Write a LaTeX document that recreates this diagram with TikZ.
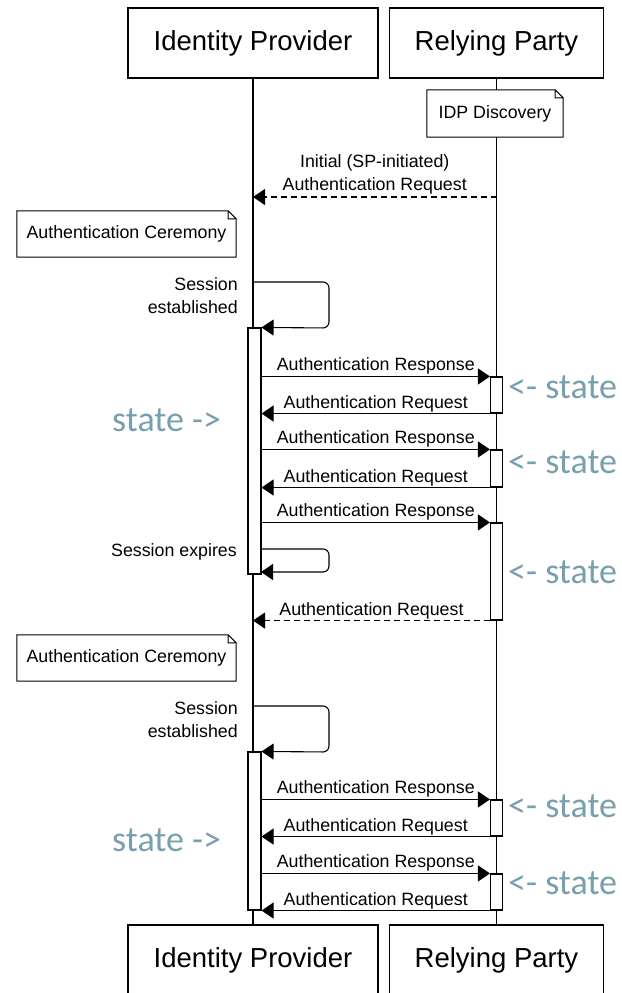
\documentclass[tikz,border=0pt]{standalone}
\usepackage{fontspec}
\setmainfont{Liberation Sans}
\newfontfamily\statefont{Carlito}
\usetikzlibrary{arrows.meta}
\definecolor{statecol}{RGB}{120,159,174}

% folded-corner outline drawn over a note node
\newcommand\foldnote[1]{%
  \draw[line width=1pt]
    (#1.north west) -- ([xshift=-8pt]#1.north east) -- ([yshift=-8pt]#1.north east)
    -- (#1.south east) -- (#1.south west) -- cycle
    ([xshift=-8pt]#1.north east) -- ([xshift=-8pt,yshift=-8pt]#1.north east)
    -- ([yshift=-8pt]#1.north east);}

\begin{document}
\begin{tikzpicture}[x=1pt,y=-1pt,
  actor/.style={draw, line width=1.1pt, fill=white, minimum width=#1,
    minimum height=70pt, inner sep=0, font=\fontsize{27.5}{33}\selectfont},
  notebox/.style={fill=white, inner sep=0, font=\fontsize{17.8}{23}\selectfont},
  bar/.style={draw, fill=white, line width=1.1pt, inner sep=0, minimum width=#1},
  lifeline/.style={line width=1.1pt},
  msg/.style={line width=1.1pt, -{Triangle[length=12pt,width=16pt]}},
  reply/.style={msg, dash pattern=on 6pt off 4pt},
  selfmsg/.style={msg, rounded corners=6pt},
  lbl/.style={inner sep=0, font=\fontsize{17.8}{23}\selectfont},
  statelbl/.style={inner sep=0, text=statecol, font=\statefont\fontsize{36}{40}\selectfont}
]
\useasboundingbox (0,0) rectangle (621,993);
\clip (0,0) rectangle (621,993);

% participants
\node[actor=250pt] (idpT) at (253,43) {Identity Provider};
\node[actor=214pt] (rpT)  at (496.5,43) {Relying Party};
\node[actor=250pt] (idpB) at (253,960) {Identity Provider};
\node[actor=214pt] (rpB)  at (496.5,960) {Relying Party};

% lifelines
\draw[lifeline] (idpT.south) -- (idpB.north);
\draw[lifeline] (rpT.south) -- (rpB.north);

% notes
\node[notebox, minimum width=136pt, minimum height=47pt] (disc) at (495,113.5) {IDP Discovery};
\foldnote{disc}
\node[notebox, minimum width=219pt, minimum height=46pt] (cer1) at (126.5,234) {Authentication Ceremony};
\foldnote{cer1}
\node[notebox, minimum width=219pt, minimum height=46pt] (cer2) at (126.5,658) {Authentication Ceremony};
\foldnote{cer2}

% activation bars
\node[bar=13pt, minimum height=246pt] (a1) at (254.5,451) {};
\node[bar=13pt, minimum height=158pt] (a2) at (254.5,831) {};
\node[bar=12pt, minimum height=36pt] (r1) at (496.5,395) {};
\node[bar=12pt, minimum height=37pt] (r2) at (496.5,468.5) {};
\node[bar=12pt, minimum height=97pt] (r3) at (496.5,571.5) {};
\node[bar=12pt, minimum height=36pt] (r4) at (496.5,818) {};
\node[bar=12pt, minimum height=36pt] (r5) at (496.5,892) {};

% lifeline anchor points
\coordinate (rpInit)  at (496.5,197);
\coordinate (idpInit) at (253,197);
\coordinate (s1) at (253,282);
\coordinate (x1) at (261,549);
\coordinate (x1e) at (261,572);
\coordinate (s2) at (253,706);

% initial request
\draw[reply] (rpInit) -- (idpInit)
  node[lbl, midway, anchor=south, yshift=2.3pt, align=center]
  {Initial (SP-initiated)\\Authentication Request};

% first session
\draw[selfmsg] (s1) -- (329,282) -- (329,328) -- (a1.north east);
\node[lbl, anchor=east, align=right] (se1) at (238,296) {Session\\established};

\draw[msg] (a1.east |- r1.north west) -- (r1.north west)
  node[lbl, midway, anchor=base, yshift=6pt] {Authentication Response};
\draw[msg] (r1.south west) -- (a1.east |- r1.south west)
  node[lbl, midway, anchor=base, yshift=5.5pt] {Authentication Request};
\draw[msg] (a1.east |- r2.north west) -- (r2.north west)
  node[lbl, midway, anchor=base, yshift=6pt] {Authentication Response};
\draw[msg] (r2.south west) -- (a1.east |- r2.south west)
  node[lbl, midway, anchor=base, yshift=5.5pt] {Authentication Request};
\draw[msg] (a1.east |- r3.north west) -- (r3.north west)
  node[lbl, midway, anchor=base, yshift=6pt] {Authentication Response};

\draw[selfmsg] (x1) -- (329,549) -- (329,572) -- (x1e);
\node[lbl, anchor=base east] (sx) at (237,556) {Session expires};

\draw[reply] (r3.south west) -- (idpT.south |- r3.south west)
  node[lbl, midway, anchor=base, yshift=5.5pt] {Authentication Request};

% second session
\draw[selfmsg] (s2) -- (329,706) -- (329,752) -- (a2.north east);
\node[lbl, anchor=east, align=right] (se2) at (238,720) {Session\\established};

\draw[msg] (a2.east |- r4.north west) -- (r4.north west)
  node[lbl, midway, anchor=base, yshift=6pt] {Authentication Response};
\draw[msg] (r4.south west) -- (a2.east |- r4.south west)
  node[lbl, midway, anchor=base, yshift=5.5pt] {Authentication Request};
\draw[msg] (a2.east |- r5.north west) -- (r5.north west)
  node[lbl, midway, anchor=base, yshift=6pt] {Authentication Response};
\draw[msg] (r5.south west) -- (a2.east |- r5.south west)
  node[lbl, midway, anchor=base, yshift=5.5pt] {Authentication Request};

% state annotations
\node[statelbl, anchor=base west] (st1) at (112,431) {state ->};
\node[statelbl, anchor=base west] (st2) at (112,851) {state ->};
\node[statelbl, anchor=base west] (rs1) at (508,398) {<- state};
\node[statelbl, anchor=base west] (rs2) at (508,473) {<- state};
\node[statelbl, anchor=base west] (rs3) at (508,583) {<- state};
\node[statelbl, anchor=base west] (rs4) at (508,817) {<- state};
\node[statelbl, anchor=base west] (rs5) at (508,894) {<- state};
\end{tikzpicture}
\end{document}
